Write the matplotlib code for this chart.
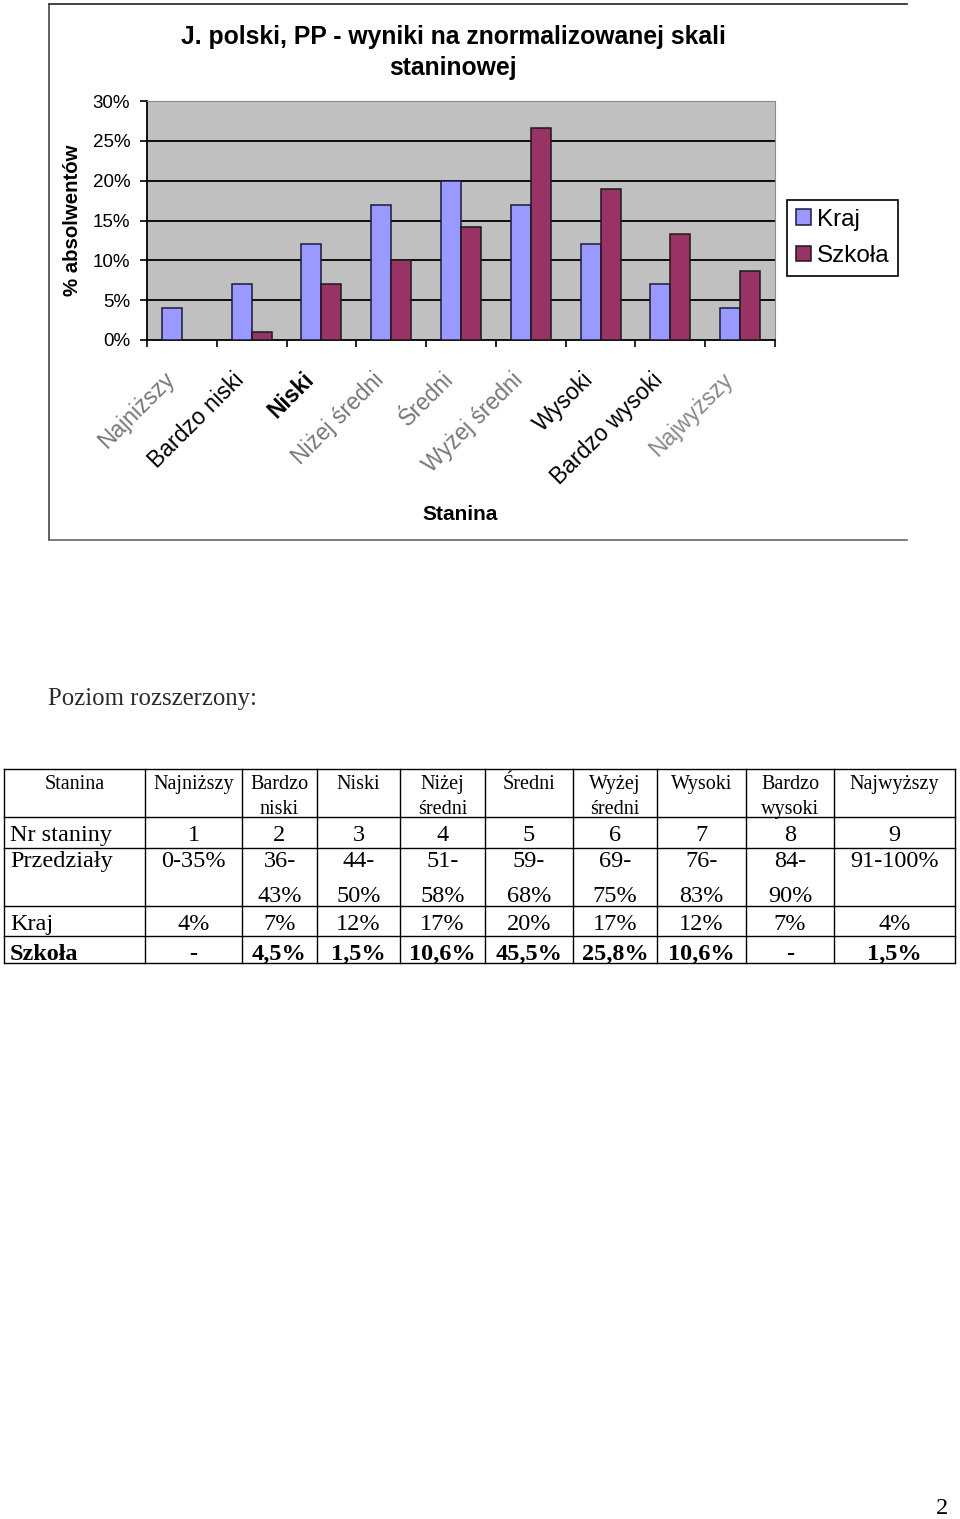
import matplotlib.pyplot as plt
from matplotlib.ticker import FuncFormatter
from matplotlib.transforms import ScaledTranslation
import numpy as np

plt.rcParams['font.family'] = ['Liberation Sans', 'DejaVu Sans']

# dane wykresu
categories = ['Najniższy', 'Bardzo niski', 'Niski', 'Niżej średni', 'Średni',
              'Wyżej średni', 'Wysoki', 'Bardzo wysoki', 'Najwyższy']
kraj = [4, 7, 12, 17, 20, 17, 12, 7, 4]
szkola = [0, 1, 7, 10, 14.2, 26.6, 19, 13.3, 8.6]
y_ticks = [0, 5, 10, 15, 20, 25, 30]

# dane tabeli (poziom rozszerzony)
tab_header = ['Stanina', 'Najniższy', 'Bardzo\nniski', 'Niski', 'Niżej\nśredni', 'Średni',
              'Wyżej\nśredni', 'Wysoki', 'Bardzo\nwysoki', 'Najwyższy']
nr_staniny = ['1', '2', '3', '4', '5', '6', '7', '8', '9']
przedzialy = ['0-35%', '36-\n43%', '44-\n50%', '51-\n58%', '59-\n68%', '69-\n75%',
              '76-\n83%', '84-\n90%', '91-100%']
kraj_tab = ['4%', '7%', '12%', '17%', '20%', '17%', '12%', '7%', '4%']
szkola_tab = ['-', '4,5%', '1,5%', '10,6%', '45,5%', '25,8%', '10,6%', '-', '1,5%']

W, H = 960, 1519
fig = plt.figure(figsize=(W / 100, H / 100), dpi=100)

# strona - wspolrzedne w pikselach
page = fig.add_axes([0, 0, 1, 1], zorder=0)
page.set_xlim(0, W)
page.set_ylim(H, 0)
page.axis('off')

# ramka wykresu (prawa krawedz ucieta)
page.plot([49, 907], [4, 4], color='#222', lw=1.2)
page.plot([49, 49], [4, 540], color='#444', lw=1.2)
page.plot([49, 907], [540, 540], color='#666', lw=1.2)

page.text(453, 37, 'J. polski, PP - wyniki na znormalizowanej skali', ha='center', va='center',
          fontsize=17.8, fontweight='bold')
page.text(453, 68, 'staninowej', ha='center', va='center', fontsize=17.8, fontweight='bold')
page.text(73, 220, '% absolwentów', rotation=90, ha='center', va='center',
          fontsize=14.7, fontweight='bold')
page.text(460, 515, 'Stanina', ha='center', va='center', fontsize=15, fontweight='bold')

# wykres slupkowy
ax = fig.add_axes([147 / W, 1 - 340 / H, (775 - 147) / W, (340 - 101) / H], zorder=2)
ax.set_facecolor('#C0C0C0')
x = np.arange(len(categories))
w = 0.286
ax.bar(x - w / 2, kraj, w, color='#9999FF', edgecolor='#1a1a40', lw=1.1, label='Kraj', zorder=3)
ax.bar(x + w / 2, szkola, w, color='#993366', edgecolor='#1a1a1a', lw=1.1, label='Szkoła', zorder=3)

ax.set_xlim(-0.5, len(categories) - 0.5)
ax.set_ylim(0, 30)
ax.set_yticks(y_ticks)
ax.yaxis.set_major_formatter(FuncFormatter(lambda v, p: f'{v:.0f}%'))
for v in y_ticks[1:-1]:
    ax.axhline(v, color='black', lw=1.3, zorder=1)

ax.set_xticks(np.arange(-0.5, len(categories)), [])
ax.set_xticks(x, categories, minor=True)
ax.tick_params(axis='x', which='major', direction='out', length=5, width=1.2)
ax.tick_params(axis='x', which='minor', length=0, pad=26, labelsize=16.5)
ax.tick_params(axis='y', direction='out', length=5, width=1.2, pad=7, labelsize=13.5)

label_colors = ['#777', 'black', 'black', '#777', '#777', '#777', 'black', 'black', '#888']
shift = ScaledTranslation(-11 / 100, 0, fig.dpi_scale_trans)
for lab, c in zip(ax.get_xticklabels(minor=True), label_colors):
    lab.set_rotation(45)
    lab.set_ha('right')
    lab.set_va('center')
    lab.set_rotation_mode('anchor')
    lab.set_color(c)
    lab.set_transform(lab.get_transform() + shift)
    if lab.get_text() == 'Niski':
        lab.set_fontweight('bold')

for s in ['left', 'bottom']:
    ax.spines[s].set_color('black')
    ax.spines[s].set_linewidth(1.3)
for s in ['top', 'right']:
    ax.spines[s].set_color('#8a8a8a')

leg = fig.legend(loc='upper left', bbox_to_anchor=(787 / W, 1 - 200 / H), fontsize=17.5,
                 frameon=True, fancybox=False, edgecolor='black', framealpha=1,
                 handlelength=0.62, handleheight=0.62, handletextpad=0.25,
                 borderpad=0.35, labelspacing=0.6, borderaxespad=0)
leg.get_frame().set_linewidth(1.2)

# tekst pod wykresem
serif = ['Liberation Serif', 'DejaVu Serif']
page.text(48, 699, 'Poziom rozszerzony:', ha='left', va='center', fontsize=17.8,
          family=serif, color='#2a2a2a')

# tabela
cols = [4, 145, 242, 317, 400, 485, 573, 657, 746, 834, 955]
rows = [769, 817, 848, 906, 936, 963]
for cx in cols:
    page.plot([cx, cx], [rows[0], rows[-1]], color='black', lw=1)
for ry in rows:
    page.plot([cols[0], cols[-1]], [ry, ry], color='black', lw=1)

centers = [(cols[i] + cols[i + 1]) / 2 for i in range(len(cols) - 1)]

for i, t in enumerate(tab_header):
    page.text(centers[i], rows[0] + 6, t, ha='center', va='top', fontsize=14.5,
              family=serif, linespacing=1.4)

body = [('Nr staniny', nr_staniny, 'normal', 8), ('Przedziały', przedzialy, 'normal', 3),
        ('Kraj', kraj_tab, 'normal', 8), ('Szkoła', szkola_tab, 'bold', 8)]
for r, (name, vals, wt, off) in enumerate(body):
    top = rows[r + 1] + off
    page.text(10, top, name, ha='left', va='top', fontsize=17.5, family=serif,
              fontweight=wt, linespacing=1.9)
    for j, v in enumerate(vals):
        page.text(centers[j + 1], top, v, ha='center', va='top', fontsize=17.5,
                  family=serif, fontweight=wt, linespacing=1.9)

page.text(942, 1508, '2', ha='center', va='center', fontsize=17.5, family=serif)

fig.savefig('out.png', dpi=100)
